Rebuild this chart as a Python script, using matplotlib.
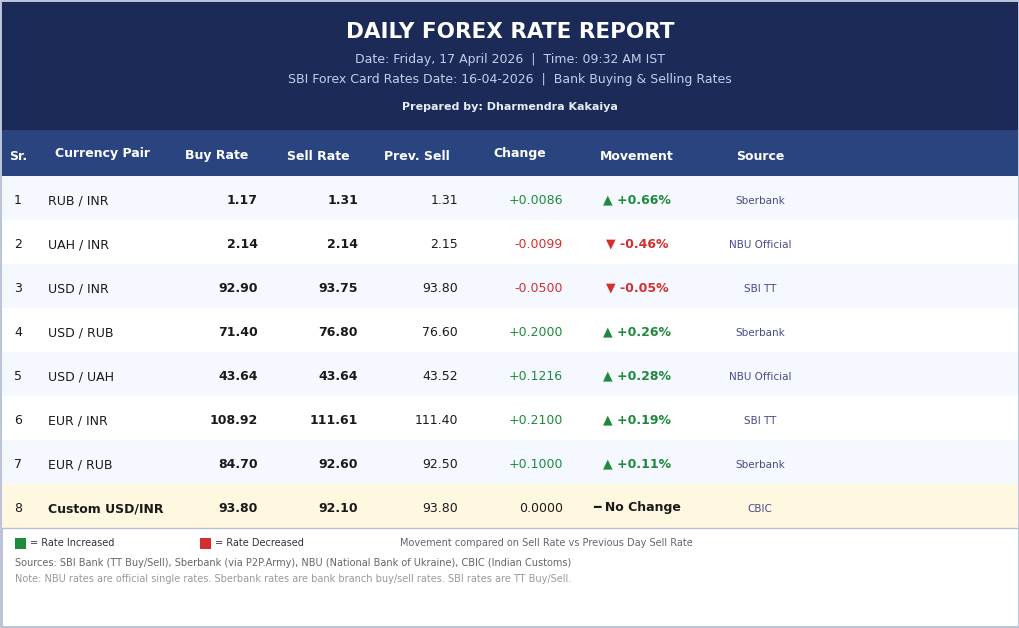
import matplotlib
matplotlib.use('Agg')
import matplotlib.pyplot as plt
from matplotlib.patches import Rectangle

NAVY = '#1b2a57'
HEAD = '#2a4480'
GREEN = '#1e8a3c'
RED = '#d32f2f'
DARK = '#1a1a1a'
SRC = '#4a4a8a'

pairs = ["RUB / INR", "UAH / INR", "USD / INR", "USD / RUB", "USD / UAH",
         "EUR / INR", "EUR / RUB", "Custom USD/INR"]
buy = [1.17, 2.14, 92.90, 71.40, 43.64, 108.92, 84.70, 93.80]
sell = [1.31, 2.14, 93.75, 76.80, 43.64, 111.61, 92.60, 92.10]
prev_sell = [1.31, 2.15, 93.80, 76.60, 43.52, 111.40, 92.50, 93.80]
change = [0.0086, -0.0099, -0.0500, 0.2000, 0.1216, 0.2100, 0.1000, 0.0]
pct = [0.66, -0.46, -0.05, 0.26, 0.28, 0.19, 0.11, 0.0]
sources = ["Sberbank", "NBU Official", "SBI TT", "Sberbank", "NBU Official",
           "SBI TT", "Sberbank", "CBIC"]

fig = plt.figure(figsize=(10.2, 6.28), dpi=100)
ax = fig.add_axes([0, 0, 1, 1])
ax.set_xlim(0, 1020); ax.set_ylim(628, 0); ax.axis('off')

ax.add_patch(Rectangle((1, 1), 1018, 626, facecolor='white', edgecolor='#b8c0d8', lw=2))
ax.add_patch(Rectangle((2, 2), 1016, 128, facecolor=NAVY, lw=0))
ax.text(510, 32, "DAILY FOREX RATE REPORT", color='white', fontsize=15.5, fontweight='bold',
        ha='center', va='center')
ax.text(510, 60, "Date: Friday, 17 April 2026  |  Time: 09:32 AM IST", color='#c5cde8',
        fontsize=9, ha='center', va='center')
ax.text(510, 80, "SBI Forex Card Rates Date: 16-04-2026  |  Bank Buying & Selling Rates",
        color='#c5cde8', fontsize=9, ha='center', va='center')
ax.text(510, 107, "Prepared by: Dharmendra Kakaiya", color='#e8ecf8', fontsize=8,
        fontweight='bold', ha='center', va='center')

ax.add_patch(Rectangle((2, 130), 1016, 46, facecolor=HEAD, lw=0))
for x, lab, y in [(18, "Sr.", 156), (103, "Currency Pair", 154), (217, "Buy Rate", 155),
                  (318, "Sell Rate", 156), (417, "Prev. Sell", 156), (520, "Change", 154),
                  (637, "Movement", 156), (760, "Source", 156)]:
    ax.text(x, y, lab, color='white', fontsize=9, fontweight='bold', ha='center', va='center')

for i in range(len(pairs)):
    top = 176 + i * 44
    yc = top + 25
    last = i == len(pairs) - 1
    bg = '#fff8e1' if last else ('#f5f8ff' if i % 2 == 0 else 'white')
    ax.add_patch(Rectangle((2, top), 1016, 44, facecolor=bg, lw=0))
    ax.text(18, yc, str(i + 1), fontsize=9, color=DARK, ha='center', va='center')
    ax.text(48, yc, pairs[i], fontsize=9, color=DARK, ha='left', va='center',
            fontweight='bold' if last else 'normal')
    ax.text(258, yc, f"{buy[i]:.2f}", fontsize=9, color=DARK, fontweight='bold', ha='right', va='center')
    ax.text(358, yc, f"{sell[i]:.2f}", fontsize=9, color=DARK, fontweight='bold', ha='right', va='center')
    ax.text(458, yc, f"{prev_sell[i]:.2f}", fontsize=9, color=DARK, ha='right', va='center')
    c = change[i]
    col = GREEN if c > 0 else (RED if c < 0 else DARK)
    ax.text(563, yc, f"{c:+.4f}" if c != 0 else "0.0000", fontsize=9, color=col, ha='right', va='center')
    if pct[i] > 0:
        mv = f"▲ +{pct[i]:.2f}%"
    elif pct[i] < 0:
        mv = f"▼ {pct[i]:.2f}%"
    else:
        mv = "━ No Change"
    ax.text(637, yc - 1, mv, fontsize=9, color=col, fontweight='bold', ha='center', va='center')
    ax.text(760, yc, sources[i], fontsize=7.5, color=SRC, ha='center', va='center')

ax.plot([2, 1018], [528, 528], color='#b8c0d8', lw=1)
ax.add_patch(Rectangle((15, 538), 11, 11, facecolor=GREEN, lw=0))
ax.text(30, 543, "= Rate Increased", fontsize=7, color='#333', va='center')
ax.add_patch(Rectangle((200, 538), 11, 11, facecolor=RED, lw=0))
ax.text(215, 543, "= Rate Decreased", fontsize=7, color='#333', va='center')
ax.text(400, 543, "Movement compared on Sell Rate vs Previous Day Sell Rate", fontsize=7,
        color='#666', va='center')
ax.text(15, 563, "Sources: SBI Bank (TT Buy/Sell), Sberbank (via P2P.Army), NBU (National Bank of Ukraine), "
        "CBIC (Indian Customs)", fontsize=7, color='#666', va='center')
ax.text(15, 579, "Note: NBU rates are official single rates. Sberbank rates are bank branch buy/sell rates. "
        "SBI rates are TT Buy/Sell.", fontsize=7, color='#999', va='center')

fig.savefig('out.png', dpi=100)
